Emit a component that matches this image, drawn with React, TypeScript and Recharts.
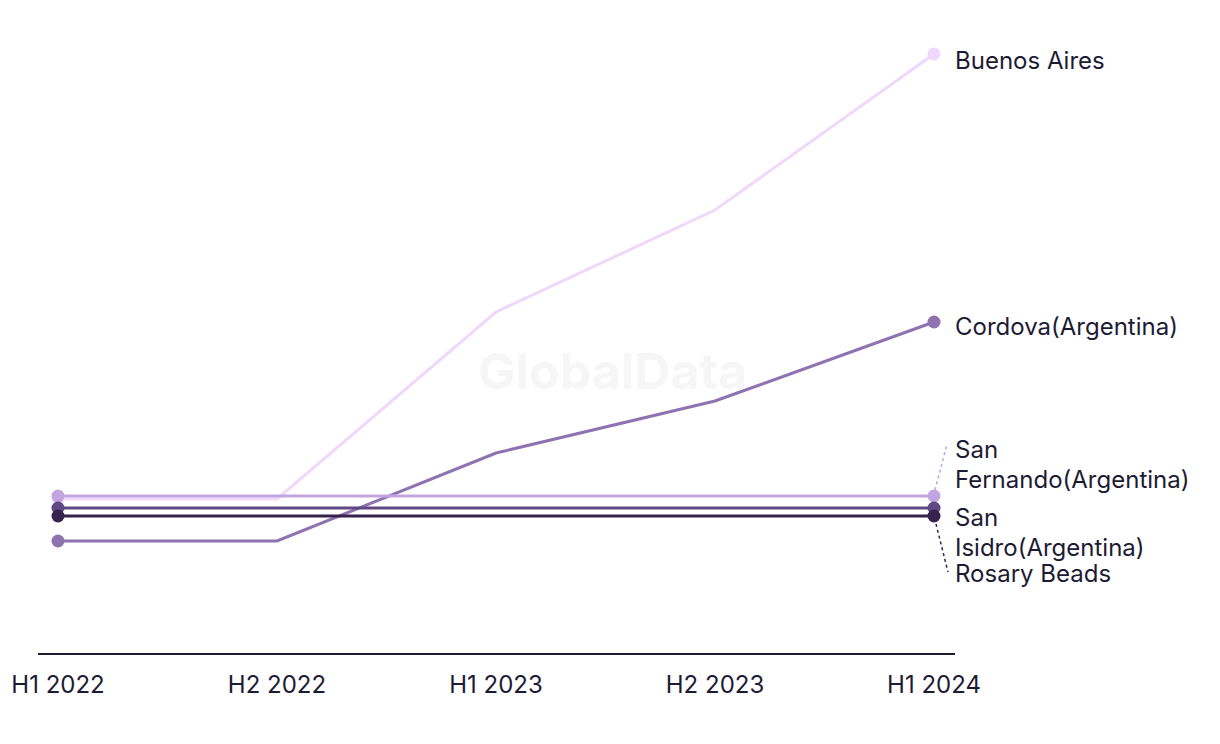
import { LineChart, Line, XAxis, YAxis, LabelList } from 'recharts'

// Periods on the x axis
const periods = ['H1 2022', 'H2 2022', 'H1 2023', 'H2 2023', 'H1 2024']

// Values (no visible y scale, relative units)
const buenosAires = [15.5, 15.5, 34.2, 44.4, 60]
const cordova = [11.3, 11.3, 20.1, 25.3, 33.2]
const sanFernando = [15.8, 15.8, 15.8, 15.8, 15.8]
const sanIsidro = [14.6, 14.6, 14.6, 14.6, 14.6]
const rosaryBeads = [13.8, 13.8, 13.8, 13.8, 13.8]

const TEXT = '#1d1b34'
const FONT = 'Inter, "Liberation Sans", Arial, sans-serif'

// Series config: key, colour, label lines, label placement relative to last point
const series = [
  { key: 'ba', name: 'Buenos Aires', color: '#efd8fb', lines: ['Buenos Aires'], dy: 15, link: null },
  { key: 'co', name: 'Cordova(Argentina)', color: '#8e72b2', lines: ['Cordova(Argentina)'], dy: 13, link: null },
  { key: 'sf', name: 'San Fernando(Argentina)', color: '#c2a4e0', lines: ['San', 'Fernando(Argentina)'], dy: -38, link: [1, -6, 13, -52] },
  { key: 'si', name: 'San Isidro(Argentina)', color: '#5d4983', lines: ['San', 'Isidro(Argentina)'], dy: 18, link: null },
  { key: 'rb', name: 'Rosary Beads', color: '#37224f', lines: ['Rosary Beads'], dy: 66, link: [2, 8, 14, 56] },
]

const data = periods.map((p, i) => ({
  period: p,
  ba: buenosAires[i],
  co: cordova[i],
  sf: sanFernando[i],
  si: sanIsidro[i],
  rb: rosaryBeads[i],
}))

const last = periods.length - 1

const makeDot = (color: string) => (props: any) => {
  const { cx, cy, index } = props
  if (index !== 0 && index !== last) return <g key={`d-${index}`} />
  return <circle key={`d-${index}`} cx={cx} cy={cy} r={6.5} fill={color} />
}

const makeLabel = (s: (typeof series)[number]) => (props: any) => {
  const { x, y, index } = props
  if (index !== last) return null
  return (
    <g>
      {s.link && (
        <line
          x1={x + s.link[0]}
          y1={y + s.link[1]}
          x2={x + s.link[2]}
          y2={y + s.link[3]}
          stroke={s.color}
          strokeWidth={1.5}
          strokeDasharray="3 3"
        />
      )}
      {s.lines.map((t, i) => (
        <text key={i} x={x + 21} y={y + s.dy + i * 30} fill={TEXT} fontSize={24} fontFamily={FONT}>
          {t}
        </text>
      ))}
    </g>
  )
}

export default function App() {
  return (
    <div style={{ position: 'relative', width: 1212, height: 728, background: '#fff' }}>
      <div
        style={{
          position: 'absolute',
          left: 470,
          top: 333,
          fontFamily: FONT,
          fontWeight: 700,
          fontSize: 50,
          color: '#f6f6f6',
        }}
      >
        GlobalData
      </div>
      <div style={{ position: 'absolute', left: 0, top: 0 }}>
        <LineChart width={1212} height={728} data={data} margin={{ top: 46, right: 265, bottom: 42, left: 30 }}>
          <XAxis
            dataKey="period"
            padding={{ left: 20, right: 21 }}
            axisLine={{ stroke: TEXT, strokeWidth: 2 }}
            tickLine={false}
            tickMargin={16}
            height={40}
            tick={{ fill: TEXT, fontSize: 24, fontFamily: FONT }}
            interval={0}
          />
          <YAxis hide domain={[0, 60]} />
          {series.map((s) => (
            <Line
              key={s.key}
              dataKey={s.key}
              name={s.name}
              stroke={s.color}
              strokeWidth={3}
              dot={makeDot(s.color)}
              activeDot={false}
              isAnimationActive={false}
              type="linear"
            >
              <LabelList dataKey={s.key} content={makeLabel(s)} />
            </Line>
          ))}
        </LineChart>
      </div>
    </div>
  )
}
